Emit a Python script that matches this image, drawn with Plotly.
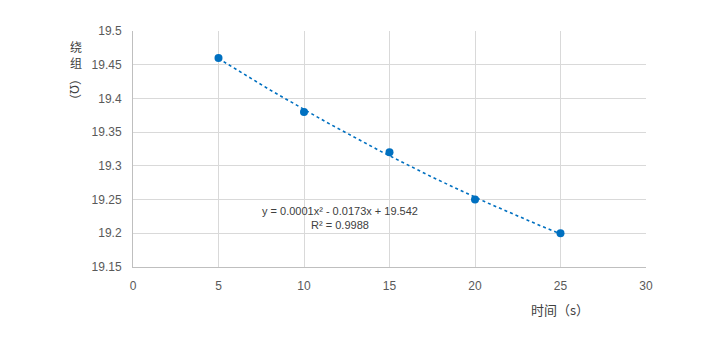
import numpy as np
import plotly.graph_objects as go

time_s = [5, 10, 15, 20, 25]
winding = [19.46, 19.38, 19.32, 19.25, 19.20]
x_ticks = [0, 5, 10, 15, 20, 25, 30]
y_ticks = [19.15, 19.2, 19.25, 19.3, 19.35, 19.4, 19.45, 19.5]
y_tick_text = ["19.15", "19.2", "19.25", "19.3", "19.35", "19.4", "19.45", "19.5"]
eq_text = "y = 0.0001x² - 0.0173x + 19.542<br>R² = 0.9988"

coef = np.polyfit(time_s, winding, 2)
xf = np.linspace(min(time_s), max(time_s), 100)
yf = np.polyval(coef, xf)

blue = "#0070C0"
font = "Liberation Sans, Arial, sans-serif"

L, R, T, B = 133, 646, 31, 267
W, H = R - L, B - T


def px(xp):
    return (xp - L) / W


def py(yp):
    return (B - yp) / H


fig = go.Figure()
fig.add_trace(go.Scatter(x=xf, y=yf, mode="lines",
                         line=dict(color=blue, width=1.6, dash="dot"),
                         hoverinfo="skip", showlegend=False))
fig.add_trace(go.Scatter(x=time_s, y=winding, mode="markers",
                         marker=dict(color=blue, size=8), showlegend=False))

fig.update_layout(
    width=710, height=351,
    margin=dict(l=L, r=710 - R, t=T, b=351 - B),
    paper_bgcolor="white", plot_bgcolor="white",
    font=dict(family=font, size=12, color="#595959"),
    xaxis=dict(range=[0, 30], tickvals=x_ticks, showgrid=True,
               gridcolor="#D9D9D9", gridwidth=1, zeroline=False,
               showline=True, linecolor="#BFBFBF", linewidth=1,
               ticks="outside", tickcolor="rgba(0,0,0,0)", ticklen=8),
    yaxis=dict(range=[19.15, 19.5], tickvals=y_ticks, ticktext=y_tick_text,
               showgrid=True, gridcolor="#D9D9D9", gridwidth=1, zeroline=False,
               showline=True, linecolor="#BFBFBF", linewidth=1,
               ticks="outside", tickcolor="rgba(0,0,0,0)", ticklen=8),
)

fig.add_annotation(x=12.1, y=19.222, xref="x", yref="y", text=eq_text,
                   showarrow=False, font=dict(size=11, color="#404040"),
                   align="center", xanchor="center", yanchor="middle")
fig.add_annotation(x=px(560), y=py(309), xref="paper", yref="paper",
                   text="时间（s）", showarrow=False,
                   xanchor="center", yanchor="middle",
                   font=dict(family="Noto Sans CJK SC", size=13, color="#404040"))
for ch, yp in [("绕", 46), ("组", 63)]:
    fig.add_annotation(x=px(76), y=py(yp), xref="paper", yref="paper",
                       text=ch, showarrow=False, borderpad=0,
                       xanchor="center", yanchor="middle",
                       font=dict(family="Noto Sans CJK SC", size=12, color="#404040"))
fig.add_annotation(x=px(76), y=py(89), xref="paper", yref="paper",
                   text="（Ω）", textangle=90, showarrow=False, borderpad=0,
                   xanchor="center", yanchor="middle",
                   font=dict(family="Noto Sans CJK SC", size=12, color="#404040"))

fig.write_html("out.html")
